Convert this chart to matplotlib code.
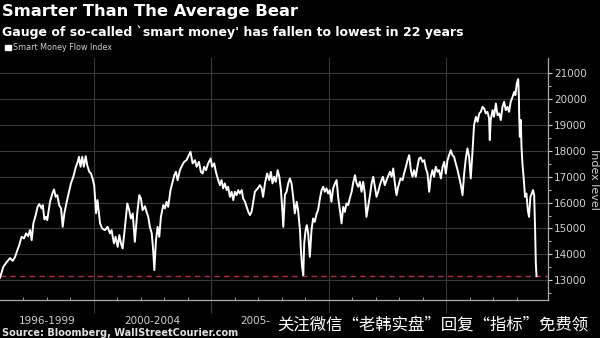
import matplotlib
matplotlib.use("Agg")
import matplotlib.pyplot as plt
import matplotlib.transforms as mtransforms
import numpy as np

# Smart Money Flow Index, decimal year vs index level
years = [
    1996.00, 1996.14, 1996.29, 1996.43, 1996.54, 1996.64, 1996.74, 1996.82, 1996.92, 1997.02,
    1997.11, 1997.20, 1997.28, 1997.35, 1997.42, 1997.52, 1997.60, 1997.67, 1997.77, 1997.82,
    1997.89, 1997.96, 1998.01, 1998.13, 1998.23, 1998.30, 1998.37, 1998.44, 1998.52, 1998.60,
    1998.67, 1998.74, 1998.84, 1998.94, 1999.02, 1999.12, 1999.23, 1999.31, 1999.36, 1999.43,
    1999.50, 1999.57, 1999.65, 1999.71, 1999.80, 1999.87, 1999.94, 2000.01, 2000.09, 2000.15,
    2000.26, 2000.35, 2000.47, 2000.58, 2000.68, 2000.75, 2000.85, 2000.92, 2001.01, 2001.08,
    2001.15, 2001.22, 2001.32, 2001.42, 2001.50, 2001.57, 2001.65, 2001.74, 2001.84, 2001.93,
    2002.00, 2002.07, 2002.17, 2002.24, 2002.31, 2002.38, 2002.46, 2002.52, 2002.57, 2002.64,
    2002.71, 2002.78, 2002.85, 2002.95, 2003.02, 2003.09, 2003.16, 2003.26, 2003.35, 2003.42,
    2003.49, 2003.56, 2003.66, 2003.76, 2003.84, 2003.94, 2004.04, 2004.11, 2004.20, 2004.30,
    2004.37, 2004.47, 2004.55, 2004.63, 2004.69, 2004.77, 2004.86, 2004.97, 2005.03, 2005.12,
    2005.19, 2005.29, 2005.36, 2005.43, 2005.50, 2005.57, 2005.65, 2005.71, 2005.79, 2005.86,
    2005.93, 2006.00, 2006.07, 2006.14, 2006.21, 2006.29, 2006.35, 2006.43, 2006.50, 2006.57,
    2006.64, 2006.71, 2006.78, 2006.85, 2006.97, 2007.06, 2007.14, 2007.20, 2007.28, 2007.37,
    2007.46, 2007.53, 2007.60, 2007.67, 2007.74, 2007.82, 2007.89, 2007.96, 2008.01, 2008.06,
    2008.13, 2008.20, 2008.27, 2008.34, 2008.41, 2008.48, 2008.55, 2008.63, 2008.69, 2008.77,
    2008.81, 2008.86, 2008.91, 2008.95, 2009.01, 2009.06, 2009.12, 2009.19, 2009.26, 2009.33,
    2009.40, 2009.48, 2009.54, 2009.62, 2009.69, 2009.76, 2009.83, 2009.90, 2009.97, 2010.04,
    2010.11, 2010.18, 2010.26, 2010.33, 2010.40, 2010.47, 2010.54, 2010.61, 2010.68, 2010.75,
    2010.82, 2010.89, 2010.97, 2011.03, 2011.11, 2011.18, 2011.25, 2011.32, 2011.39, 2011.46,
    2011.53, 2011.60, 2011.67, 2011.74, 2011.82, 2011.89, 2011.96, 2012.03, 2012.10, 2012.17,
    2012.24, 2012.30, 2012.38, 2012.48, 2012.60, 2012.67, 2012.74, 2012.81, 2012.88, 2012.95,
    2013.05, 2013.14, 2013.20, 2013.28, 2013.35, 2013.42, 2013.49, 2013.56, 2013.63, 2013.70,
    2013.77, 2013.84, 2013.91, 2013.99, 2014.06, 2014.13, 2014.20, 2014.27, 2014.34, 2014.41,
    2014.48, 2014.55, 2014.63, 2014.69, 2014.77, 2014.84, 2014.91, 2014.98, 2015.05, 2015.12,
    2015.19, 2015.26, 2015.33, 2015.40, 2015.48, 2015.54, 2015.62, 2015.69, 2015.76, 2015.83,
    2015.90, 2015.97, 2016.04, 2016.11, 2016.18, 2016.26, 2016.33, 2016.40, 2016.47, 2016.54,
    2016.61, 2016.68, 2016.75, 2016.82, 2016.85, 2016.89, 2016.97, 2017.03, 2017.11, 2017.18,
    2017.25, 2017.32, 2017.39, 2017.46, 2017.53, 2017.60, 2017.67, 2017.74, 2017.82, 2017.89,
    2017.94, 2018.00, 2018.06, 2018.09, 2018.10, 2018.13, 2018.17, 2018.20, 2018.24, 2018.30,
    2018.35, 2018.41, 2018.47, 2018.52, 2018.58, 2018.64, 2018.69, 2018.74, 2018.78, 2018.81,
    2018.84,
]
index_level = [
    13100, 13520, 13710, 13860, 13750, 13900, 14165, 14360, 14680, 14615,
    14810, 14705, 14940, 14550, 15195, 15515, 15835, 15940, 15775, 15900,
    15350, 15450, 15320, 16030, 16350, 16505, 16220, 16285, 15900, 15775,
    15065, 15580, 16030, 16415, 16740, 16990, 17380, 17570, 17765, 17380,
    17765, 17380, 17790, 17445, 17185, 17125, 16930, 16670, 15590, 16095,
    15195, 15000, 14935, 15065, 14810, 14935, 14425, 14680, 14290, 14745,
    14425, 14230, 15065, 15965, 15705, 15385, 15580, 14485, 15580, 16285,
    16160, 15705, 15860, 15640, 15450, 15065, 14810, 14165, 13395, 14550,
    15065, 14680, 15450, 15900, 15775, 16030, 15835, 16480, 16800, 17055,
    17185, 16865, 17250, 17445, 17570, 17635, 17830, 17955, 17510, 17635,
    17380, 17570, 17185, 17120, 17380, 17250, 17510, 17700, 17380, 17510,
    17185, 16865, 16670, 16865, 16545, 16740, 16480, 16610, 16220, 16415,
    16095, 16415, 16285, 16480, 16350, 16480, 16160, 16030, 15835, 15640,
    15515, 15640, 16030, 16415, 16545, 16670, 16545, 16220, 16740, 17120,
    16865, 17185, 16740, 16995, 16800, 17250, 16995, 16480, 15835, 15065,
    16300, 16415, 16740, 16930, 16740, 16220, 15580, 16030, 15705, 14935,
    14165, 13520, 13200, 14425, 14935, 15130, 14810, 13905, 14935, 15385,
    15255, 15580, 15705, 16160, 16480, 16610, 16415, 16545, 16350, 16480,
    16030, 16545, 16740, 16865, 16160, 15705, 15195, 15835, 15640, 15965,
    15900, 16160, 16415, 16740, 17055, 16740, 16610, 16800, 16415, 16800,
    16350, 15450, 15835, 16220, 16740, 16995, 16610, 16220, 16415, 16670,
    16865, 16995, 16670, 16930, 17185, 16995, 17315, 16740, 16285, 16610,
    16930, 16865, 17120, 17380, 17635, 17830, 17250, 16995, 17250, 16995,
    17380, 17700, 17740, 17570, 17635, 17315, 17120, 16415, 16995, 17250,
    16995, 17380, 17185, 17250, 16930, 17380, 17570, 17120, 17635, 17830,
    18020, 17830, 17765, 17510, 17250, 16995, 16670, 16285, 17120, 17700,
    18085, 17765, 16930, 17895, 18990, 19305, 19115, 19435, 19500, 19690,
    19630, 19435, 19500, 19245, 18410, 19180, 19565, 19305, 19820, 19370,
    19435, 19180, 19690, 19885, 19565, 19690, 19500, 19885, 20075, 20270,
    20140, 20595, 20760, 20075, 19435, 18535, 19180, 18150, 17510, 16865,
    16220, 16350, 15705, 15450, 16220, 16350, 16480, 16285, 14935, 13650,
    13160,
]

period_labels = ["1996-1999", "2000-2004", "2005-"]
period_centers = [1998.0, 2002.5, 2006.85]
y_ticks = [13000, 14000, 15000, 16000, 17000, 18000, 19000, 20000, 21000]

BG = "black"
GRID = "#383838"
TEXT = "#d0d0d0"

fig = plt.figure(figsize=(6, 3.38), dpi=100, facecolor=BG)
ax = fig.add_axes([0.0, 0.112, 0.913, 0.716], facecolor=BG)

ax.plot(years, index_level, color="white", lw=1.4, solid_joinstyle="round", zorder=3)
# reference line at the latest reading
ax.axhline(index_level[-1], color="#b0304a", lw=1.0, ls=(0, (4, 3)), zorder=2)

ax.set_xlim(1996.0, 2019.32)
ax.set_ylim(12236, 21570)

ax.yaxis.tick_right()
ax.yaxis.set_label_position("right")
ax.set_yticks(y_ticks)
ax.set_yticks(np.arange(12500, 21500, 500), minor=True)
ax.tick_params(axis="y", which="major", colors=TEXT, labelsize=7.5, length=3,
               width=0.8, pad=1.5)
ax.tick_params(axis="y", which="minor", colors=TEXT, length=2, width=0.6)
ax.set_ylabel("Index level", color=TEXT, fontsize=8, rotation=270, labelpad=9)
ax.grid(axis="y", color=GRID, lw=0.8)

ax.set_xticks([2000, 2005, 2010, 2015])
ax.set_xticks(np.arange(1997, 2019, 1), minor=True)
ax.set_xticklabels([])
ax.tick_params(axis="x", which="major", color=GRID, length=9, width=0.8, direction="out")
ax.tick_params(axis="x", which="minor", color="#999999", length=2.5, width=0.7, direction="in")
ax.grid(axis="x", which="major", color=GRID, lw=0.8)

for side in ["top", "left"]:
    ax.spines[side].set_visible(False)
ax.spines["bottom"].set_color("#aaaaaa")
ax.spines["right"].set_color("#aaaaaa")
ax.spines["bottom"].set_linewidth(0.9)
ax.spines["right"].set_linewidth(0.9)

trans = mtransforms.blended_transform_factory(ax.transData, ax.transAxes)
for lab, xc in zip(period_labels, period_centers):
    ax.text(xc, -0.085, lab, transform=trans, ha="center", va="center",
            color=TEXT, fontsize=7.5, clip_on=False)

fig.text(0.004, 0.965, "Smarter Than The Average Bear", color="white",
         fontsize=11.8, fontweight="bold", ha="left", va="center")
fig.text(0.004, 0.905, "Gauge of so-called `smart money' has fallen to lowest in 22 years",
         color="white", fontsize=9, fontweight="bold", ha="left", va="center")
fig.text(0.022, 0.858, "Smart Money Flow Index", color=TEXT, fontsize=5.8,
         ha="left", va="center")
fig.patches.append(plt.Rectangle((0.008, 0.851), 0.0095, 0.017, color="white",
                                 transform=fig.transFigure, figure=fig))
fig.text(0.004, 0.016, "Source: Bloomberg, WallStreetCourier.com", color="#e0e0e0",
         fontsize=7, fontweight="bold", ha="left", va="center")

fig.text(0.98, 0.038, "关注微信“老韩实盘”回复“指标”免费领", color="white",
         fontsize=11.8, ha="right", va="center",
         family=["Noto Sans CJK SC", "DejaVu Sans"],
         bbox=dict(facecolor=BG, edgecolor="none", pad=1.0))

fig.savefig("out.png", dpi=100, facecolor=BG)
